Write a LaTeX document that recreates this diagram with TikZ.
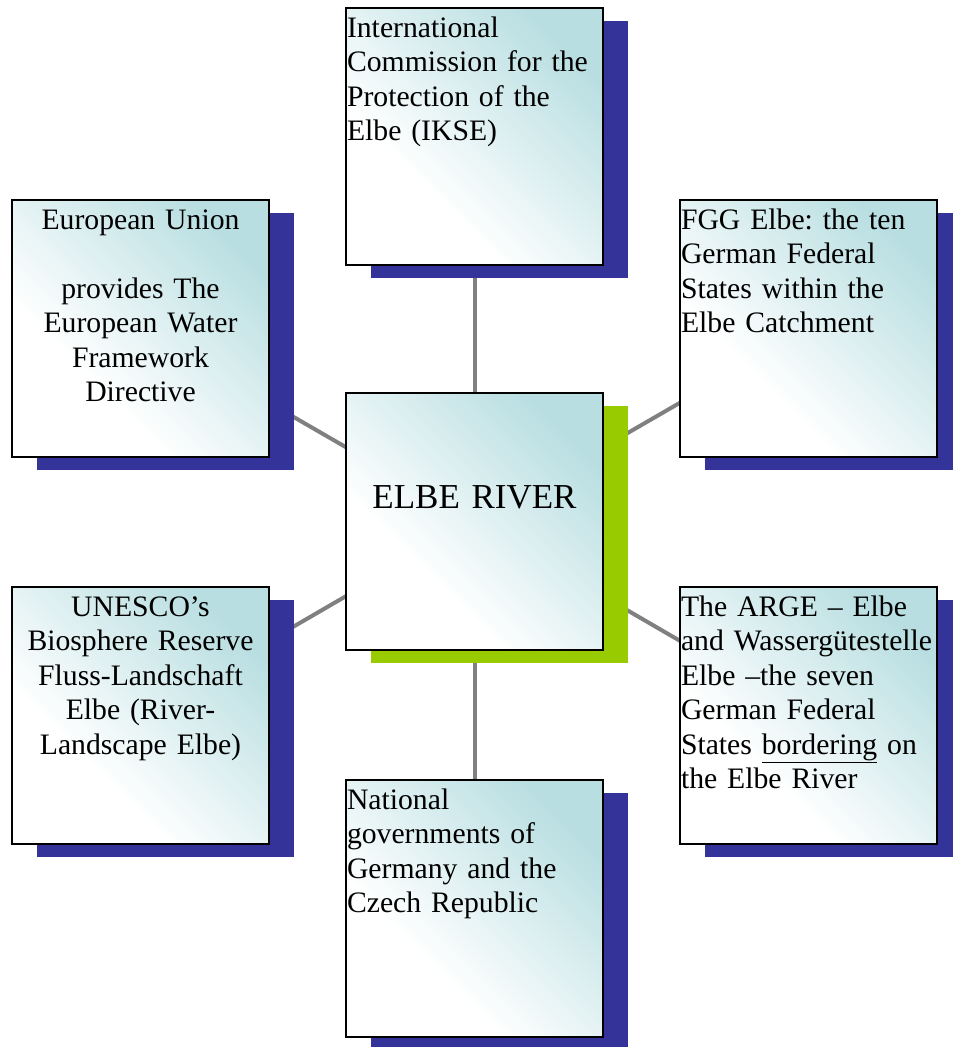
\documentclass[tikz,border=0pt]{standalone}
\usepackage{fontspec}
\setmainfont{Liberation Serif}
\frenchspacing
\usetikzlibrary{shadows,backgrounds}
\definecolor{elbeTeal}{RGB}{184,222,225}
\definecolor{elbeBlue}{RGB}{51,51,153}
\definecolor{elbeGreen}{RGB}{153,204,0}
\definecolor{elbeGray}{RGB}{128,128,128}
\pgfdeclarehorizontalshading{elbeFade}{100bp}{color(0bp)=(white); color(36bp)=(white); color(75bp)=(elbeTeal); color(100bp)=(elbeTeal)}
\begin{document}
\begin{tikzpicture}[x=1pt,y=-1pt,
    elbeBox/.style={draw=black,line width=1.5pt,shading=elbeFade,shading angle=45,
        minimum width=257pt,minimum height=257pt,inner xsep=1pt,inner ysep=2pt,
        text width=255pt,text height=27pt,text depth=226pt,
        font=\fontsize{29.7}{34.5}\selectfont,
        general shadow={fill=#1,shadow xshift=25pt,shadow yshift=-12.5pt}},
    elbeBox/.default=elbeBlue,
    elbeLink/.style={draw=elbeGray,line width=4pt},
]
\useasboundingbox (0,0) rectangle (953,1047);
\node[elbeBox,align=left] (ikse) at (474.5,136.5) {International\\Commission for the\\Protection of the\\Elbe (IKSE)};
\node[elbeBox,align=center] (eu) at (140.5,328.5) {European Union\\[34.5pt]provides The\\European Water\\Framework\\Directive};
\node[elbeBox,align=left] (fgg) at (808.5,328.5) {FGG Elbe: the ten\\German Federal\\States within the\\Elbe Catchment};
\node[elbeBox=elbeGreen,align=center,font=\fontsize{35}{40}\selectfont,text height=113pt,text depth=140pt] (river) at (474.5,521.5) {ELBE RIVER};
\node[elbeBox,align=center] (unesco) at (140.5,715.5) {UNESCO’s\\Biosphere Reserve\\Fluss-Landschaft\\Elbe (River-\\Landscape Elbe)};
\node[elbeBox,align=left] (arge) at (808.5,715.5) {The ARGE – Elbe\\and Wassergütestelle\\Elbe –the seven\\German Federal\\States \underline{bordering} on\\the Elbe River};
\node[elbeBox,align=left] (natgov) at (474.5,908.5) {National\\governments of\\Germany and the\\Czech Republic};
\begin{scope}[on background layer]
\draw[elbeLink] (river.center) -- (ikse.center);
\draw[elbeLink] (river.center) -- (eu.center);
\draw[elbeLink] (river.center) -- (fgg.center);
\draw[elbeLink] (river.center) -- (unesco.center);
\draw[elbeLink] (river.center) -- (arge.center);
\draw[elbeLink] (river.center) -- (natgov.center);
\end{scope}
\end{tikzpicture}
\end{document}
